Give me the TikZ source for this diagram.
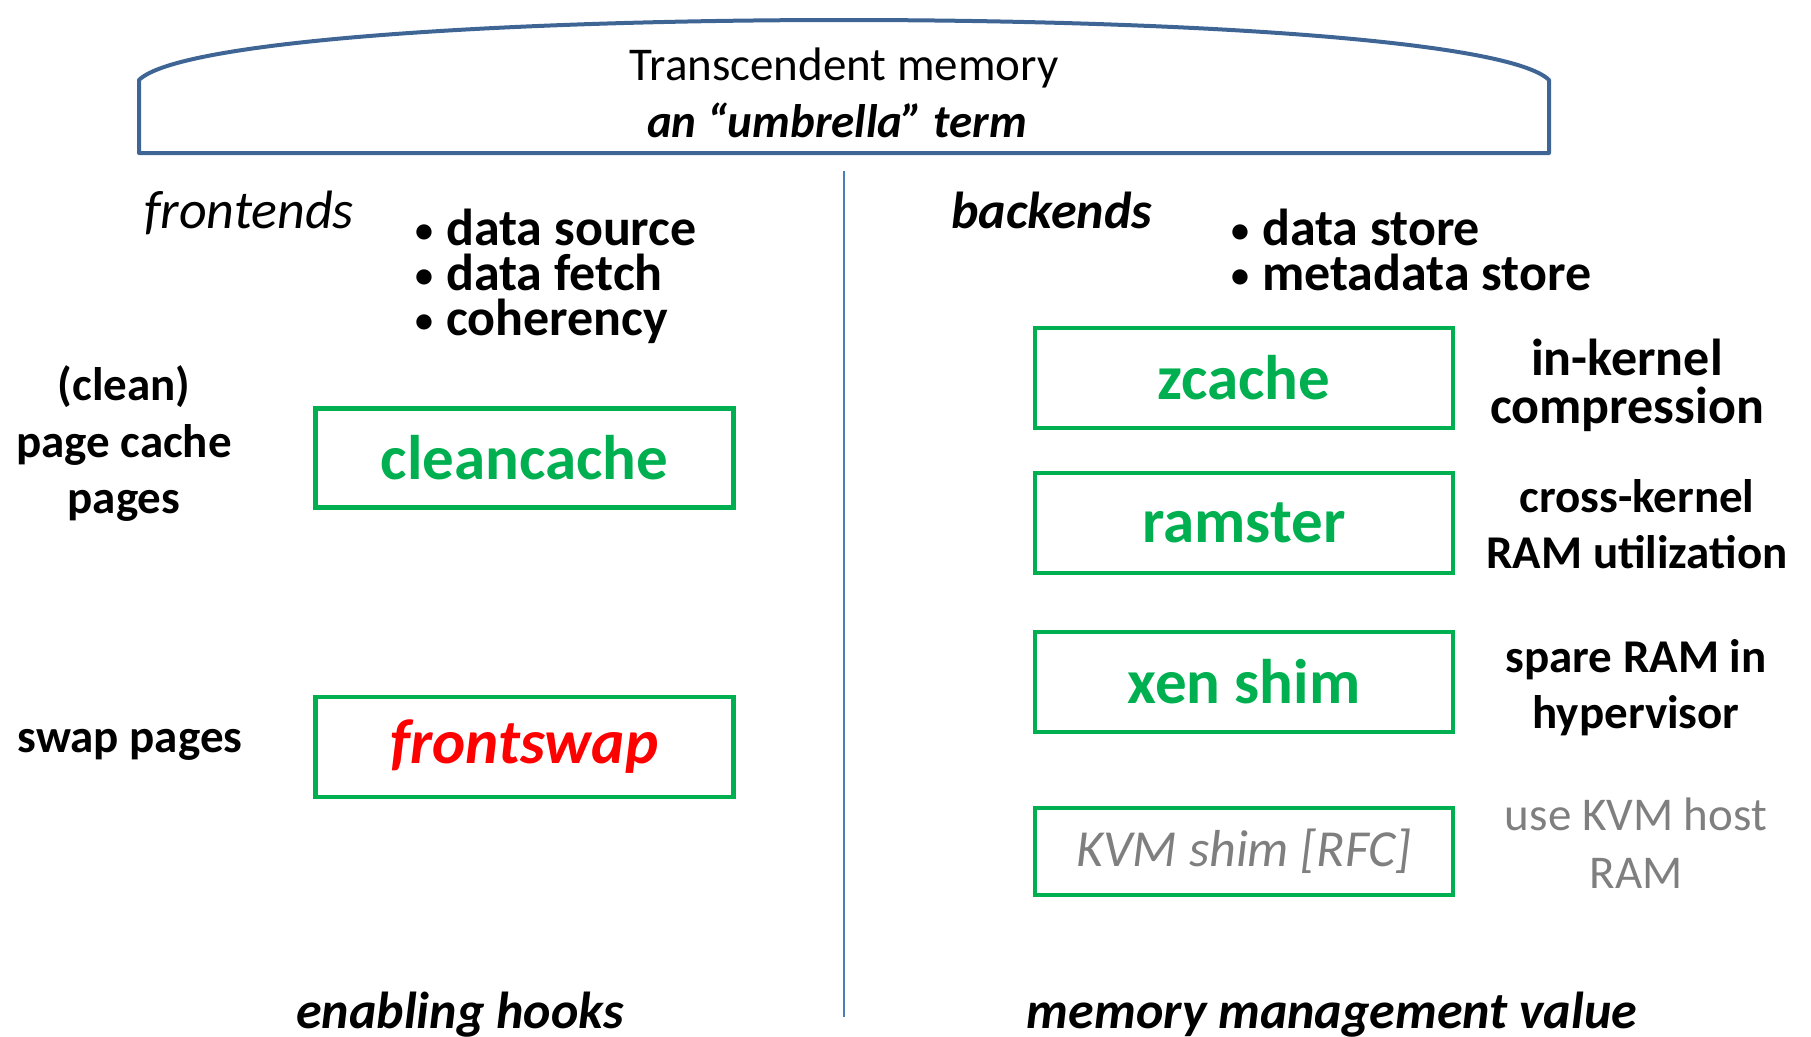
\documentclass[tikz,border=0pt]{standalone}
\usepackage{fontspec}
\setmainfont{Carlito}
\definecolor{boxgreen}{HTML}{00B050}
\definecolor{umbblue}{HTML}{3F6595}
\definecolor{divblue}{HTML}{4A7EBB}
\definecolor{txtgray}{HTML}{7F7F7F}
\newcommand{\mybul}{\makebox[33pt][l]{\hspace{2pt}\raisebox{3pt}{\fontsize{36}{36}\selectfont •}}}
\tikzset{
  rg/.style={font=\fontsize{#1}{#1}\selectfont},
  bf/.style={font=\fontsize{#1}{#1}\selectfont\bfseries},
  it/.style={font=\fontsize{#1}{#1}\selectfont\itshape},
  bfit/.style={font=\fontsize{#1}{#1}\selectfont\bfseries\itshape},
  hookbox/.style={draw=boxgreen, line width=4.5pt, minimum width=418pt, minimum height=100pt, inner sep=0pt, text=boxgreen, bf=63},
  lbl/.style={inner sep=0pt, anchor=base, align=center},
}
\begin{document}
\begin{tikzpicture}[x=1pt,y=-1pt]
\useasboundingbox (0,0) rectangle (1811,1036);
% umbrella
\draw[umbblue, line width=4pt, line join=round] (139,153) -- (139,80) .. controls (220,0) and (1468,0) .. (1549,80) -- (1549,153) -- cycle;
\node[lbl, rg=47] (tm) at (844,80) {Transcendent memory};
\node[lbl, bfit=47] (umb) at (837,137) {an “umbrella” term};
% divider
\coordinate (dtop) at (844,171);
\coordinate (dbot) at (844,1017);
\draw[divblue, line width=2pt] (dtop) -- (dbot);
% left column
\node[lbl, anchor=base west, it=54] (fe) at (144,228) {frontends};
\node[lbl, anchor=base west, bf=52] (fl1) at (413,245) {\mybul data source};
\node[lbl, anchor=base west, bf=52] (fl2) at (413,290) {\mybul data fetch};
\node[lbl, anchor=base west, bf=52] (fl3) at (413,335) {\mybul coherency};
\node[lbl, bf=47] (pc1) at (124,400) {(clean)};
\node[lbl, bf=47] (pc2) at (124,457) {page cache};
\node[lbl, bf=47] (pc3) at (124,513) {pages};
\node[lbl, bf=47] (sp) at (130,752) {swap pages};
\node[hookbox, minimum height=99pt] (cc) at (524.5,458) {cleancache};
\node[hookbox, text=red, bfit=63] (fs) at (524.5,747) {frontswap};
\node[lbl, bfit=52] (eh) at (460,1028) {enabling hooks};
% right column
\node[lbl, anchor=base west, bfit=52] (be) at (951,228) {backends};
\node[lbl, anchor=base west, bf=52] (bl1) at (1229,245) {\mybul data store};
\node[lbl, anchor=base west, bf=52] (bl2) at (1229,290) {\mybul metadata store};
\node[hookbox] (zc) at (1244,378) {zcache};
\node[hookbox] (rs) at (1244,523) {ramster};
\node[hookbox] (xs) at (1244,682) {xen shim};
\node[hookbox, minimum height=87pt, text=txtgray, it=52] (ks) at (1244,851.5) {KVM shim [RFC]};
\node[lbl, bf=52] (ik1) at (1627,375) {in-kernel};
\node[lbl, bf=52] (ik2) at (1627,423) {compression};
\node[lbl, bf=47] (ck1) at (1637,512) {cross-kernel};
\node[lbl, bf=47] (ck2) at (1637,568) {RAM utilization};
\node[lbl, bf=47] (sr1) at (1636,672) {spare RAM in};
\node[lbl, bf=47] (sr2) at (1636,728) {hypervisor};
\node[lbl, rg=47, text=txtgray] (uk1) at (1636,830) {use KVM host};
\node[lbl, rg=47, text=txtgray] (uk2) at (1636,888) {RAM};
\node[lbl, bfit=52] (mm) at (1332,1028) {memory management value};
\end{tikzpicture}
\end{document}
